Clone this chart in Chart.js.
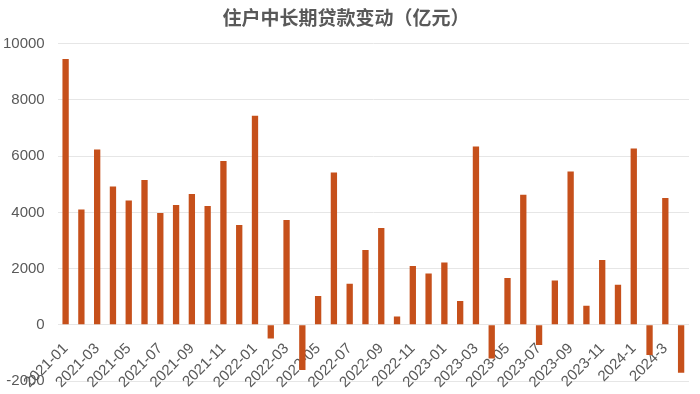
<!DOCTYPE html>
<html>
<head>
<meta charset="utf-8">
<script src="https://cdn.jsdelivr.net/npm/chart.js@4/dist/chart.umd.min.js"></script>
<style>
html,body{margin:0;padding:0;background:#fff;}
#wrap{width:700px;height:394px;}
</style>
</head>
<body>
<div id="wrap"><canvas id="c" width="700" height="394"></canvas></div>
<script>
const categories = [
  "2021-01","2021-02","2021-03","2021-04","2021-05","2021-06","2021-07","2021-08","2021-09","2021-10","2021-11","2021-12",
  "2022-01","2022-02","2022-03","2022-04","2022-05","2022-06","2022-07","2022-08","2022-09","2022-10","2022-11","2022-12",
  "2023-01","2023-02","2023-03","2023-04","2023-05","2023-06","2023-07","2023-08","2023-09","2023-10","2023-11","2023-12",
  "2024-1","2024-2","2024-3","2024-4"
];
const loanChange = [
  9455, 4107, 6242, 4925, 4427, 5150, 3975, 4260, 4651, 4224, 5826, 3548,
  7438, -484, 3726, -1612, 1021, 5423, 1459, 2658, 3441, 299, 2089, 1829,
  2220, 843, 6349, -1196, 1662, 4626, -722, 1580, 5459, 676, 2302, 1423,
  6278, -1078, 4509, -1708
];
const yTicks = [-2000, 0, 2000, 4000, 6000, 8000, 10000];
const titleText = "住户中长期贷款变动（亿元）";

const fontFam = "'Liberation Sans', Arial, 'Noto Sans CJK SC', sans-serif";

new Chart(document.getElementById('c'), {
  type: 'bar',
  data: {
    labels: categories,
    datasets: [{
      label: titleText,
      data: loanChange,
      backgroundColor: '#C6501B',
      borderWidth: 0,
      categoryPercentage: 1,
      barPercentage: 0.4
    }]
  },
  options: {
    responsive: false,
    animation: false,
    layout: { padding: { left: 3, right: 11, top: 0, bottom: 13 } },
    plugins: {
      legend: { display: false },
      tooltip: { enabled: false },
      title: {
        display: true,
        text: titleText,
        color: '#595959',
        font: { family: "'Noto Sans CJK SC', sans-serif", size: 19, weight: 'bold' },
        padding: { top: 6, bottom: 15 }
      }
    },
    scales: {
      x: {
        position: { y: 0 },
        afterFit: function(s) { s.paddingLeft = 0; s.paddingRight = 0; },
        grid: { display: false, drawTicks: false },
        border: { display: false },
        ticks: {
          autoSkip: false,
          maxRotation: 45,
          minRotation: 45,
          color: '#595959',
          padding: 15,
          font: { family: fontFam, size: 15 },
          callback: function(v, i) { return i % 2 === 0 ? categories[i] : ''; }
        }
      },
      y: {
        min: -2000,
        max: 10000,
        afterBuildTicks: function(axis) { axis.ticks = yTicks.map(v => ({ value: v })); },
        afterFit: function(s) { s.width -= s.options.ticks.padding; s.paddingTop = 0; s.paddingBottom = 0; },
        grid: { color: '#E6E6E6', drawTicks: false },
        border: { display: false },
        ticks: {
          color: '#595959',
          padding: 13,
          font: { family: fontFam, size: 15 },
          callback: function(v) { return String(v); }
        }
      }
    }
  }
});
</script>
</body>
</html>
